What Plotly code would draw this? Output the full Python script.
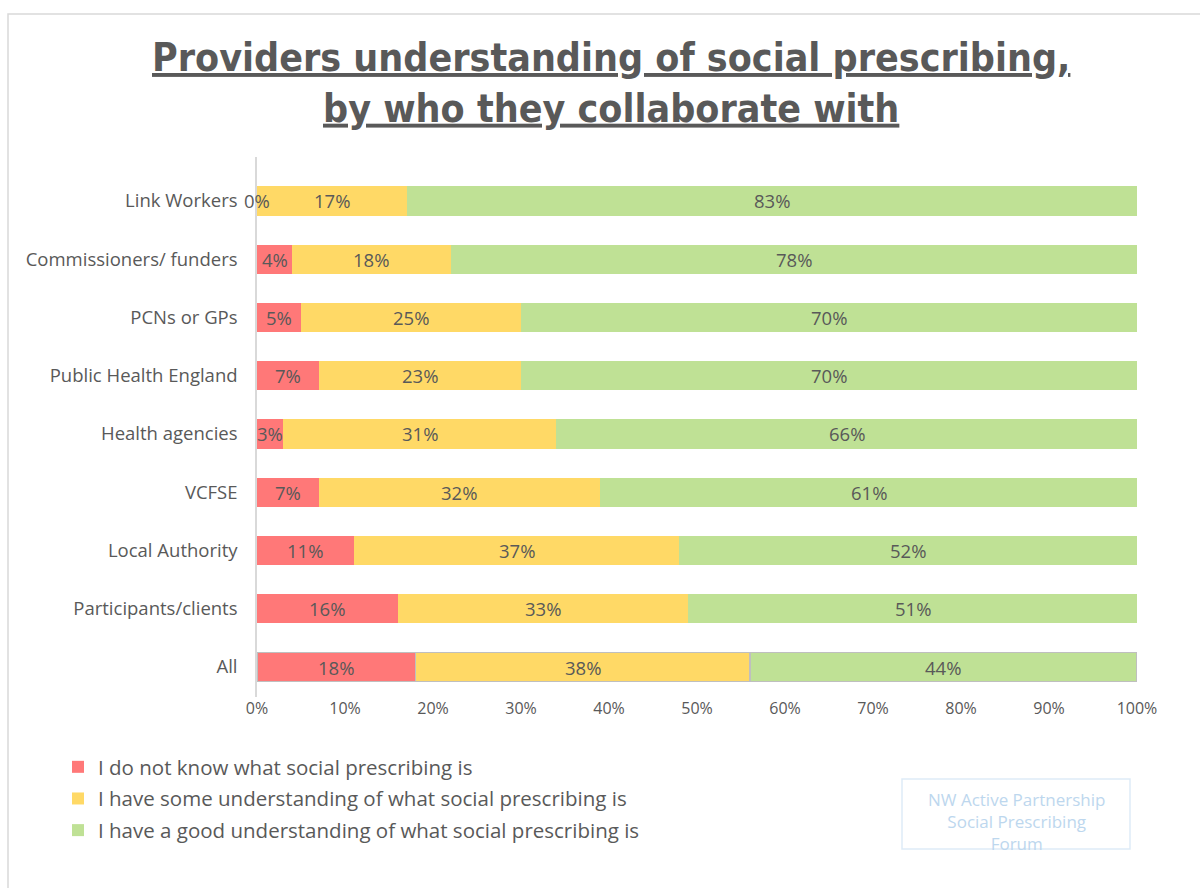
import plotly.graph_objects as go

# Survey groups, listed top to bottom
groups = [
    "Link Workers",
    "Commissioners/ funders",
    "PCNs or GPs",
    "Public Health England",
    "Health agencies",
    "VCFSE",
    "Local Authority",
    "Participants/clients",
    "All",
]

# Share of respondents (%) for each level of understanding
dont_know = [0, 4, 5, 7, 3, 7, 11, 16, 18]
some_understanding = [17, 18, 25, 23, 31, 32, 37, 33, 38]
good_understanding = [83, 78, 70, 70, 66, 61, 52, 51, 44]

series_names = [
    "I do not know what social prescribing is",
    "I have some understanding of what social prescribing is",
    "I have a good understanding of what social prescribing is",
]
series_values = [dont_know, some_understanding, good_understanding]
series_colors = ["#FF7878", "#FFD966", "#BFE195"]

x_ticks = [0, 10, 20, 30, 40, 50, 60, 70, 80, 90, 100]

TEXT = "#595959"
FONT = "Open Sans"

# Pixel geometry of the plot area inside the 1200x888 canvas
PL, PR, PT, PB = 257, 1137, 157, 697
PW, PH = PR - PL, PB - PT


def px(x):
    return (x - PL) / PW


def py(y):
    return (PB - y) / PH


fig = go.Figure()

# The "All" row carries a grey outline
outline_w = [1.8 if g == "All" else 0 for g in groups]

for name, vals, col in zip(series_names, series_values, series_colors):
    fig.add_trace(go.Bar(
        y=groups, x=vals, name=name, orientation="h",
        marker=dict(color=col, line=dict(color="#BFBFBF", width=outline_w)),
        width=0.5, legendgroup=name, hoverinfo="skip",
    ))

# Value labels centred in each segment
annotations = []
for i, g in enumerate(groups):
    start = 0
    for vals in series_values:
        v = vals[i]
        annotations.append(dict(
            x=start + v / 2, y=g, xref="x", yref="y", text=f"{v}%",
            showarrow=False, font=dict(family=FONT, size=18.5, color=TEXT),
        ))
        start += v

# Title
annotations.append(dict(
    x=px(611), y=py(133), xref="paper", yref="paper",
    xanchor="center", yanchor="bottom", showarrow=False,
    text="<b><u>Providers understanding of social prescribing,</u></b><br>"
         "<b><u>by who they collaborate with</u></b>",
    font=dict(family="DejaVu Sans Condensed", size=39, color=TEXT),
))

# Watermark
annotations.append(dict(
    x=px(1016), y=py(786), xref="paper", yref="paper",
    xanchor="center", yanchor="top", showarrow=False, align="center",
    text="NW Active Partnership<br>Social Prescribing<br>Forum",
    font=dict(family=FONT, size=17, color="#BDD7EE"),
))

shapes = [
    # watermark frame
    dict(type="rect", xref="paper", yref="paper",
         x0=px(902), x1=px(1130), y0=py(849), y1=py(779),
         line=dict(color="#DEEBF7", width=1.5)),
    # outer chart frame
    dict(type="rect", xref="paper", yref="paper",
         x0=px(8), x1=px(1210), y0=py(900), y1=py(14),
         line=dict(color="#D9D9D9", width=1.5), layer="below"),
]

fig.update_layout(
    width=1200, height=888,
    margin=dict(l=PL, r=1200 - PR, t=PT, b=888 - PB, pad=0),
    paper_bgcolor="white", plot_bgcolor="white",
    barmode="stack", bargap=0.5,
    font=dict(family=FONT, color=TEXT),
    showlegend=True,
    legend=dict(
        x=px(58), y=py(747), xanchor="left", yanchor="top",
        orientation="v", traceorder="grouped", tracegroupgap=2,
        font=dict(family=FONT, size=20.5, color=TEXT), bgcolor="rgba(0,0,0,0)",
    ),
    annotations=annotations,
    shapes=shapes,
)

fig.update_xaxes(
    range=[0, 100], tickvals=x_ticks, ticktext=[f"{t}%" for t in x_ticks],
    showgrid=False, zeroline=False, showline=False, ticks="",
    tickfont=dict(family=FONT, size=16, color=TEXT),
)
fig.update_yaxes(
    type="category", categoryorder="array", categoryarray=groups,
    range=[8.515, -0.755], showgrid=False, zeroline=False,
    showline=True, linecolor="#D9D9D9", linewidth=1.5, ticks="",
    ticklabelstandoff=14,
    tickfont=dict(family=FONT, size=18.5, color=TEXT),
)

fig.write_html("out.html")
